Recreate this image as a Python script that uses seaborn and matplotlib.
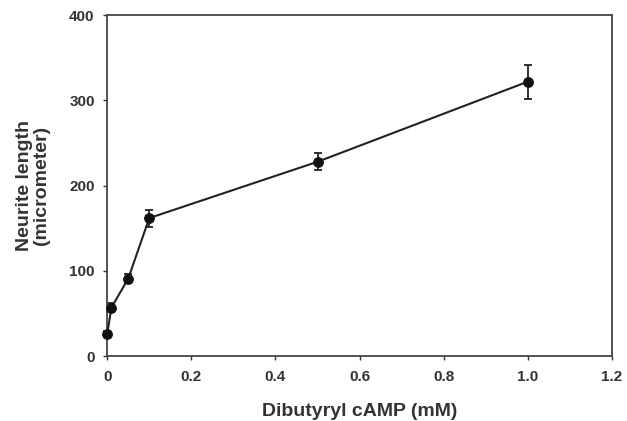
import numpy as np
import pandas as pd
import seaborn as sns
import matplotlib
matplotlib.use("Agg")
import matplotlib.pyplot as plt

# values
dbcamp_mM = [0, 0.01, 0.05, 0.1, 0.5, 1.0]
neurite_um = [26, 57, 91, 162, 228, 322]
sem_um = [4, 5, 5, 10, 10, 20]

df = pd.DataFrame({"dose": dbcamp_mM, "length": neurite_um, "sem": sem_um})

sns.set_style("ticks")
plt.rcParams["font.family"] = ["Liberation Sans", "DejaVu Sans"]
plt.rcParams["font.weight"] = "bold"

fig = plt.figure(figsize=(6.27, 4.21), dpi=100)
ax = fig.add_axes([0.171, 0.154, 0.805, 0.81])

ax.errorbar(df["dose"], df["length"], yerr=df["sem"], fmt="none",
            ecolor="#222222", elinewidth=1.3, capsize=3, capthick=1.3,
            zorder=2, clip_on=False)
sns.lineplot(data=df, x="dose", y="length", ax=ax, color="#222222",
             linewidth=1.5, marker="o", markersize=7, markeredgecolor="#111111",
             markerfacecolor="#111111", zorder=3, clip_on=False)

ax.set_xlim(0, 1.2)
ax.set_ylim(0, 400)
ax.set_xticks([0, 0.2, 0.4, 0.6, 0.8, 1.0, 1.2])
ax.set_xticklabels(["0", "0.2", "0.4", "0.6", "0.8", "1.0", "1.2"])
ax.set_yticks([0, 100, 200, 300, 400])
ax.tick_params(labelsize=11, length=3, width=1, color="#333333", labelcolor="#333333")
ax.tick_params(axis="x", pad=7)
ax.tick_params(axis="y", pad=6)
for s in ax.spines.values():
    s.set_linewidth(1.3)
    s.set_color("#444444")

ax.set_xlabel("Dibutyryl cAMP (mM)", fontsize=14, fontweight="bold", color="#333333", labelpad=14)
ax.set_ylabel("Neurite length\n(micrometer)", fontsize=14, fontweight="bold", color="#333333",
              labelpad=14, linespacing=1.0)

fig.savefig("out.png", dpi=100)
